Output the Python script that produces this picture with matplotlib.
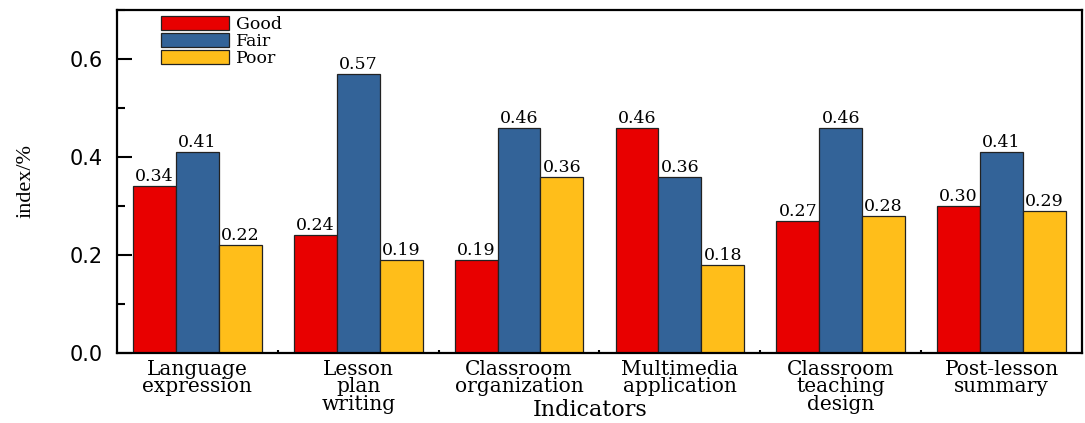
import numpy as np
import matplotlib
matplotlib.use("Agg")
import matplotlib.pyplot as plt
from matplotlib.ticker import MultipleLocator, FixedLocator, FormatStrFormatter

categories = ["Language\nexpression", "Lesson\nplan\nwriting", "Classroom\norganization",
              "Multimedia\napplication", "Classroom\nteaching\ndesign", "Post-lesson\nsummary"]
series_names = ["Good", "Fair", "Poor"]
good = [0.34, 0.24, 0.19, 0.46, 0.27, 0.30]
fair = [0.41, 0.57, 0.46, 0.36, 0.46, 0.41]
poor = [0.22, 0.19, 0.36, 0.18, 0.28, 0.29]
colors = ["#E80000", "#336398", "#FFBE1A"]

serif = "DejaVu Serif"
sans = "DejaVu Sans"

fig = plt.figure(figsize=(10.85, 4.23), dpi=100)
ax = fig.add_axes([0.1078, 0.1655, 0.8894, 0.8109])

x = np.arange(len(categories))
width = 0.8 / 3
for i, (name, vals, col) in enumerate(zip(series_names, [good, fair, poor], colors)):
    pos = x + (i - 1) * width
    ax.bar(pos, vals, width, color=col, edgecolor="#222222", linewidth=0.9, label=name, zorder=2)
    for px, v in zip(pos, vals):
        ax.text(px, v + 0.002, f"{v:.2f}", ha="center", va="bottom",
                fontsize=12.5, family=serif, zorder=3)

ax.set_xlim(-0.5, 5.5)
ax.set_ylim(0, 0.7)

ax.xaxis.set_major_locator(FixedLocator(x))
ax.xaxis.set_minor_locator(FixedLocator(x[:-1] + 0.5))
ax.set_xticklabels(categories, family=serif, fontsize=14.5, linespacing=0.9)
ax.yaxis.set_major_locator(MultipleLocator(0.2))
ax.yaxis.set_minor_locator(MultipleLocator(0.1))
ax.yaxis.set_major_formatter(FormatStrFormatter("%.1f"))
for lab in ax.get_yticklabels():
    lab.set_family(sans)
    lab.set_fontsize(15)

ax.tick_params(axis="x", which="major", direction="in", length=4, width=1.5, pad=5)
ax.tick_params(axis="x", which="minor", direction="in", length=2, width=1.5)
ax.tick_params(axis="y", which="major", direction="in", length=11, width=1.5, pad=10)
ax.tick_params(axis="y", which="minor", direction="in", length=6, width=1.5)
ax.tick_params(top=False, right=False, which="both")

for sp in ax.spines.values():
    sp.set_linewidth(1.6)

ax.set_xlabel("Indicators", family=serif, fontsize=16, va="top")
ax.xaxis.set_label_coords(0.49, -0.135)
ax.set_ylabel("index/%", family="Liberation Serif", fontsize=16, va="center")
ax.yaxis.set_label_coords(-0.094, 0.5)

ax.legend(loc="upper left", bbox_to_anchor=(0.046, 0.982), frameon=False,
          prop={"family": serif, "size": 12.5}, handlelength=3.9, handleheight=0.85,
          labelspacing=0.0, handletextpad=0.4, borderpad=0, borderaxespad=0)

fig.savefig("out.png", dpi=100)
